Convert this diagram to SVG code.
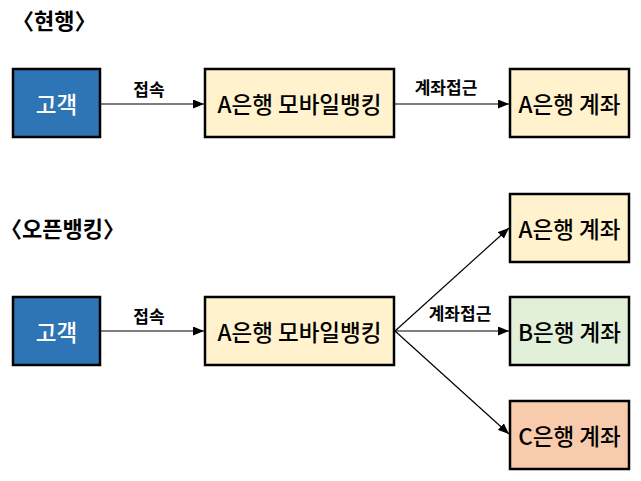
<svg xmlns="http://www.w3.org/2000/svg" width="641" height="481" viewBox="0 0 641 481">
<defs>
<marker id="ah" markerWidth="11" markerHeight="9" refX="11" refY="4.5" orient="auto" markerUnits="userSpaceOnUse">
<path d="M0,0 L11,4.5 L0,9 z" fill="#000"/>
</marker>
<style>
.box{stroke:#000;stroke-width:2.5}
.blue{fill:#2E75B6}
.yel{fill:#FFF2CC}
.grn{fill:#E2F0D9}
.org{fill:#F8CBAD}
.t{font-family:"Noto Sans CJK KR","Malgun Gothic",sans-serif;font-size:22.5px;font-weight:500;text-anchor:middle;dominant-baseline:central}
.w{fill:#fff}
.lbl{font-family:"Noto Sans CJK KR",sans-serif;font-size:17px;font-weight:bold;text-anchor:middle}
.title{font-family:"Noto Sans CJK KR",sans-serif;font-size:22px;font-weight:bold}
.ln{stroke:#000;stroke-width:1.2;fill:none;marker-end:url(#ah)}
</style>
</defs>
<rect width="641" height="481" fill="#fff"/>
<text class="title" x="12" y="29">〈현행〉</text>
<text class="title" x="0" y="237">〈오픈뱅킹〉</text>
<g id="connectors">
<line class="ln" x1="101" y1="104" x2="204" y2="104"/>
<line class="ln" x1="395" y1="104" x2="509" y2="104"/>
<line class="ln" x1="101" y1="331" x2="204" y2="331"/>
<line class="ln" x1="395" y1="331" x2="509" y2="228"/>
<line class="ln" x1="395" y1="331" x2="509" y2="331"/>
<line class="ln" x1="395" y1="331" x2="509" y2="434"/>
<text class="lbl" x="149" y="96">접속</text>
<text class="lbl" x="446" y="94">계좌접근</text>
<text class="lbl" x="149" y="323">접속</text>
<text class="lbl" x="460" y="320">계좌접근</text>
</g>
<g id="n1"><rect class="box blue" x="13" y="69" width="87" height="68"/><text class="t w" x="56.5" y="103">고객</text></g>
<g id="n2"><rect class="box yel" x="205" y="69" width="189" height="68"/><text class="t" x="299.5" y="103">A은행 모바일뱅킹</text></g>
<g id="n3"><rect class="box yel" x="510" y="69" width="119" height="68"/><text class="t" x="569.5" y="103">A은행 계좌</text></g>
<g id="n4"><rect class="box blue" x="13" y="297" width="87" height="68"/><text class="t w" x="56.5" y="331">고객</text></g>
<g id="n5"><rect class="box yel" x="205" y="297" width="189" height="68"/><text class="t" x="299.5" y="331">A은행 모바일뱅킹</text></g>
<g id="n6"><rect class="box yel" x="510" y="194" width="119" height="68"/><text class="t" x="569.5" y="228">A은행 계좌</text></g>
<g id="n7"><rect class="box grn" x="510" y="297" width="119" height="68"/><text class="t" x="569.5" y="331">B은행 계좌</text></g>
<g id="n8"><rect class="box org" x="510" y="401" width="119" height="68"/><text class="t" x="569.5" y="435">C은행 계좌</text></g>
</svg>
